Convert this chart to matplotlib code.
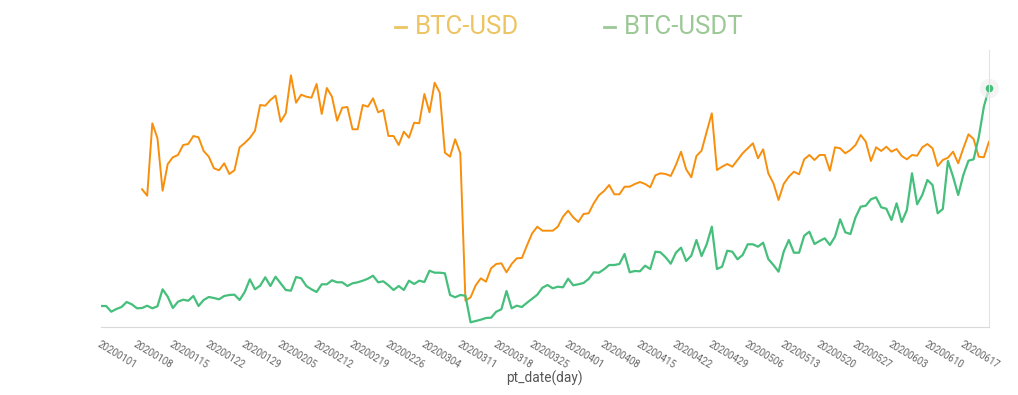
import numpy as np
import pandas as pd
import matplotlib
matplotlib.use("Agg")
import matplotlib.pyplot as plt
from matplotlib.lines import Line2D

nan = np.nan

# x categories: daily from 20200101 to 20200622
dates = pd.date_range("2020-01-01", "2020-06-22").strftime("%Y%m%d").tolist()

# values (no y scale is shown, so units are arbitrary)
btc_usd = [nan] * 8 + [
    137.7, 131.3, 203.7, 188.7, 136.3, 163, 169.7, 172, 182, 183,
    191, 189.7, 176, 170.3, 158.7, 156.7, 163.7, 153, 156.7, 179.7,
    184, 189, 196.3, 222, 221.3, 227, 231.3, 205.3, 213.7, 251.7,
    224.3, 232.3, 230.3, 229.3, 243, 213, 239, 230.3, 206.3, 219.3,
    220, 197.7, 197.7, 222, 220.3, 228.7, 214.7, 217, 191, 191,
    182, 195.3, 189.3, 204.3, 203.7, 233, 214.7, 244.3, 234.3, 174.3,
    170.3, 187.7, 173.7, 26.3, 29.7, 41.7, 48.7, 45.3, 58.7, 63,
    63.7, 54.7, 63, 68.7, 69, 81.7, 93.7, 100.3, 96.3, 96.3,
    96.3, 100.3, 110.3, 116.3, 109.7, 105, 113, 113.7, 123.7, 131.7,
    136, 142, 132.7, 132.7, 140.3, 140.3, 143, 145, 143, 139.7,
    151.7, 153.7, 153, 151, 162, 175.3, 157.7, 149.7, 171,
    176.3, 195.3, 213.7, 157, 160.3, 163, 160.3, 167, 173.7, 178.7,
    183.7, 168.7, 177.7, 153.7, 143.7, 127, 143, 150.3, 155.3, 152.7,
    167.7, 172, 167, 172, 172, 156.3, 179.7, 178.7,
    173.7, 177, 182, 192, 185.3, 166, 179.7, 176, 180.3, 175.3,
    178, 171, 167.7, 172, 171.3, 179.7, 183, 178.7, 161, 167,
    169.3, 175.3, 163.7, 178.7, 192.7, 188, 170.3, 169.7, 185.3,
]

btc_usdt = [
    21, 21, 15.3, 18, 20, 25, 22.7, 18.7, 19, 21.3,
    18.7, 20.7, 37.7, 30.3, 19, 25.3, 27.3, 26.3, 31, 21,
    27, 30, 29, 27.7, 31, 32, 32.3, 27, 35,
    47.7, 37.7, 41.3, 49.7, 41, 50.3, 43.7, 37, 36.3, 50,
    48.7, 41, 37.7, 35, 42.7, 42.7, 46.7, 44.7, 44.7, 41,
    43.7, 44.7, 46.3, 48.3, 51.3, 44.7, 45.7, 41.7, 37,
    41, 37, 46.3, 43, 46.3, 45, 56.3, 54.3, 54.3, 53.7,
    32, 29.7, 32, 31.3, 4.7, 6, 7.3, 9, 9.3, 15.3,
    17.7, 36, 18.7, 21.3, 20, 24.3, 28.3, 32.3, 39.3,
    42, 38.7, 40.3, 39.7, 48.3, 41.7, 42.7, 44, 48, 54.7,
    54.3, 57.7, 62, 62, 63, 73, 54.7, 56, 55.7, 61.3,
    58, 75.3, 74.7, 69.7, 63.3, 74.3, 79.3, 66, 71.3,
    87, 71, 82.7, 100.3, 58, 60.3, 76.3, 75.3, 67.7, 72,
    82.7, 82.7, 80.3, 84.3, 68, 62, 55.3, 75.3, 87, 74.3,
    74.3, 91.3, 95.3, 83, 86, 88.7, 82, 90.3, 107.7,
    94.7, 93, 109.7, 120.3, 121.3, 127.7, 129.7, 119.7, 118.3, 107,
    123.7, 105, 117, 153.7, 122.7, 132, 147, 142, 113.7, 118,
    166, 150.3, 132, 152, 166.3, 167.7, 189.7, 220.3, 238.7,
]

orange = "#f78f0c"
green = "#45bf7b"

x = np.arange(len(dates))

fig = plt.figure(figsize=(10.18, 3.95), dpi=100)
ax = fig.add_axes([101 / 1018, 68 / 395, 888 / 1018, 277 / 395])

ax.plot(x, btc_usd, color=orange, lw=1.4)
ax.plot(x, btc_usdt, color=green, lw=1.6)
# highlighted last point
ax.plot(x[-1], btc_usdt[-1], "o", ms=14, color="#f0f0f0", alpha=0.7, mew=0, clip_on=False)
ax.plot(x[-1], btc_usdt[-1], "o", ms=5.5, color=green, mew=0, clip_on=False)

ax.set_xlim(0, len(dates) - 1)
ax.set_ylim(0, 277)
ax.set_yticks([])
for s in ["left", "top"]:
    ax.spines[s].set_visible(False)
ax.spines["bottom"].set_color("#d9d9d9")
ax.spines["right"].set_color("#e3e3e3")

ax.set_xticks(x[::7])
ax.set_xticklabels(dates[::7], rotation=-31, ha="left", va="top",
                   rotation_mode="anchor", fontsize=7, color="#666666",
                   family="Roboto")
ax.tick_params(axis="x", length=0, pad=9)

fig.text(544 / 1018, 1 - 378 / 395, "pt_date(day)", ha="center", va="center",
         fontsize=9.8, color="#555555", family="Roboto")

# legend on top
ly = 1 - 27 / 395
fig.add_artist(Line2D([395 / 1018, 406 / 1018], [ly, ly], color="#edc462", lw=2))
fig.text(415 / 1018, ly, "BTC-USD", ha="left", va="center", fontsize=18.5,
         color="#edc462", family="Roboto")
fig.add_artist(Line2D([604 / 1018, 615 / 1018], [ly, ly], color="#9cc896", lw=2))
fig.text(624 / 1018, ly, "BTC-USDT", ha="left", va="center", fontsize=18.5,
         color="#9cc896", family="Roboto")

fig.savefig("out.png", dpi=100)
